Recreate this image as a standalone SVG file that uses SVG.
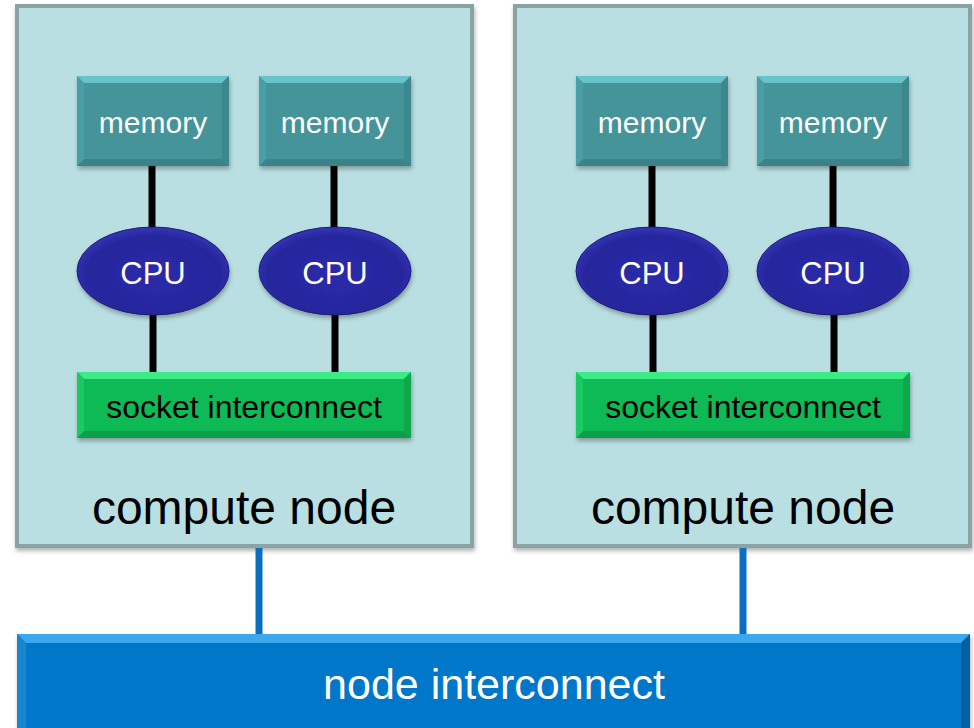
<svg xmlns="http://www.w3.org/2000/svg" width="974" height="728" viewBox="0 0 974 728">
<style>
.wt{font-family:"Liberation Sans",Arial,sans-serif;fill:#ffffff;text-anchor:middle}
.bk{font-family:"Liberation Sans",Arial,sans-serif;fill:#000000;text-anchor:middle}
.node{fill:#b9dfe2;stroke:#8aa4a6;stroke-width:4}
.blk{stroke:#000000;stroke-width:7;fill:none}
.blu{stroke:#0a6fc0;stroke-width:7;fill:none}
</style>
<defs>
<filter id="sh" x="-10%" y="-10%" width="130%" height="140%">
<feDropShadow dx="1" dy="3" stdDeviation="2" flood-color="#000" flood-opacity="0.3"/>
</filter>
<radialGradient id="cpuG" cx="50%" cy="55%" r="55%">
<stop offset="0" stop-color="#2b2bab"/>
<stop offset="0.8" stop-color="#26269c"/>
<stop offset="1" stop-color="#3535b8"/>
</radialGradient>
<g id="mem">
<rect x="0" y="0" width="152" height="90" fill="#44949a"/>
<polygon points="0,0 152,0 145,7 7,7" fill="#68c3ca"/>
<polygon points="0,90 152,90 145,83 7,83" fill="#3a8388"/>
<polygon points="0,0 7,7 7,83 0,90" fill="#4a9fa5"/>
<polygon points="152,0 145,7 145,83 152,90" fill="#3c888d"/>
</g>
<g id="sock">
<rect x="0" y="0" width="334" height="66" fill="#0cba55"/>
<polygon points="0,0 334,0 327,7 7,7" fill="#3aeb86"/>
<polygon points="0,66 334,66 327,59 7,59" fill="#0a9e48"/>
<polygon points="0,0 7,7 7,59 0,66" fill="#1cc862"/>
<polygon points="334,0 327,7 327,59 334,66" fill="#0aa84c"/>
</g>
</defs>

<g id="compute-node-1">
<rect class="node" x="17" y="6" width="455" height="540" filter="url(#sh)"/>
<text class="bk" x="244" y="524" font-size="48">compute node</text>
</g>
<g id="compute-node-2">
<rect class="node" x="515" y="6" width="455" height="540" filter="url(#sh)"/>
<text class="bk" x="743" y="524" font-size="48">compute node</text>
</g>

<g id="connectors">
<line class="blk" x1="152" y1="166" x2="152" y2="230"/>
<line class="blk" x1="334" y1="166" x2="334" y2="230"/>
<line class="blk" x1="153" y1="312" x2="153" y2="373"/>
<line class="blk" x1="335" y1="312" x2="335" y2="373"/>
<line class="blk" x1="652" y1="166" x2="652" y2="230"/>
<line class="blk" x1="833" y1="166" x2="833" y2="230"/>
<line class="blk" x1="653" y1="312" x2="653" y2="373"/>
<line class="blk" x1="834" y1="312" x2="834" y2="373"/>
<line class="blu" x1="259" y1="548" x2="259" y2="636"/>
<line class="blu" x1="743" y1="548" x2="743" y2="636"/>
</g>

<g id="memory-1"><use href="#mem" x="77" y="76" filter="url(#sh)"/><text class="wt" x="153" y="133" font-size="30">memory</text></g>
<g id="memory-2"><use href="#mem" x="259" y="76" filter="url(#sh)"/><text class="wt" x="335" y="133" font-size="30">memory</text></g>
<g id="memory-3"><use href="#mem" x="576" y="76" filter="url(#sh)"/><text class="wt" x="652" y="133" font-size="30">memory</text></g>
<g id="memory-4"><use href="#mem" x="757" y="76" filter="url(#sh)"/><text class="wt" x="833" y="133" font-size="30">memory</text></g>

<g id="cpu-1"><ellipse cx="153" cy="271" rx="76" ry="44" fill="url(#cpuG)" stroke="#1c1c78" stroke-width="1" filter="url(#sh)"/><text class="wt" x="153" y="284" font-size="31">CPU</text></g>
<g id="cpu-2"><ellipse cx="335" cy="271" rx="76" ry="44" fill="url(#cpuG)" stroke="#1c1c78" stroke-width="1" filter="url(#sh)"/><text class="wt" x="335" y="284" font-size="31">CPU</text></g>
<g id="cpu-3"><ellipse cx="652" cy="271" rx="76" ry="44" fill="url(#cpuG)" stroke="#1c1c78" stroke-width="1" filter="url(#sh)"/><text class="wt" x="652" y="284" font-size="31">CPU</text></g>
<g id="cpu-4"><ellipse cx="833" cy="271" rx="76" ry="44" fill="url(#cpuG)" stroke="#1c1c78" stroke-width="1" filter="url(#sh)"/><text class="wt" x="833" y="284" font-size="31">CPU</text></g>

<g id="socket-1"><use href="#sock" x="77" y="372" filter="url(#sh)"/><text class="bk" x="244" y="418" font-size="32">socket interconnect</text></g>
<g id="socket-2"><use href="#sock" x="576" y="372" filter="url(#sh)"/><text class="bk" x="743" y="418" font-size="32">socket interconnect</text></g>

<g id="node-interconnect">
<rect x="17" y="634" width="953" height="100" fill="#0677c8" filter="url(#sh)"/>
<polygon points="17,634 970,634 961,643 26,643" fill="#3aa7ef"/>
<polygon points="17,634 26,643 26,728 17,728" fill="#1a86d2"/>
<polygon points="970,634 961,643 961,728 970,728" fill="#05609f"/>
<text class="wt" x="494" y="699" font-size="43">node interconnect</text>
</g>
</svg>
